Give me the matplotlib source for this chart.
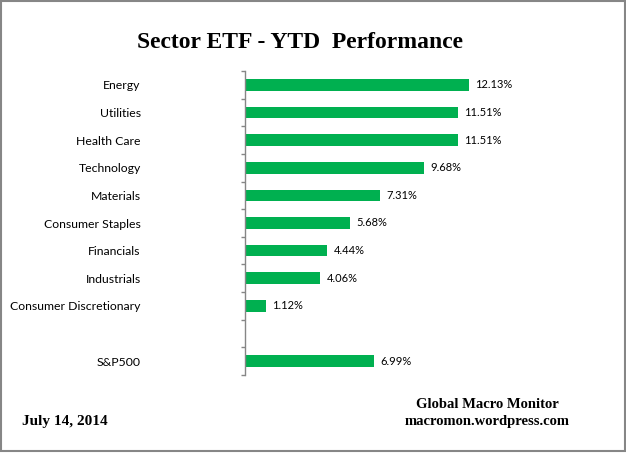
import matplotlib.pyplot as plt
from matplotlib.patches import Rectangle

# data (top to bottom), blank slot separates the index
sectors = ['Energy', 'Utilities', 'Health Care', 'Technology', 'Materials',
           'Consumer Staples', 'Financials', 'Industrials',
           'Consumer Discretionary', '', 'S&P500']
ytd = [12.13, 11.51, 11.51, 9.68, 7.31, 5.68, 4.44, 4.06, 1.12, None, 6.99]

green = '#00B050'
gray = '#868686'

fig = plt.figure(figsize=(6.26, 4.55), dpi=100)
ax = fig.add_axes([245 / 626, 80 / 455, 355 / 626, 304 / 455])

n = len(sectors)
pos = list(range(n))
for p, v in zip(pos, ytd):
    if v is None:
        continue
    ax.barh(p, v, height=0.42, color=green)
    ax.text(v + 0.35, p, '%.2f%%' % v, va='center', ha='left',
            fontsize=8, family='Lato')

ax.set_ylim(n - 0.5, -0.5)
ax.set_xlim(0, 355 / 18.47)

ax.set_yticks(pos)
ax.set_yticklabels(sectors, fontsize=8.8, family='Lato')
ax.tick_params(axis='y', which='major', length=0, pad=75)
ax.set_yticks([p + 0.5 for p in [-1] + pos], minor=True)
ax.tick_params(axis='y', which='minor', length=3, width=1, color=gray,
               direction='out')
ax.set_xticks([])

for s in ['top', 'right', 'bottom']:
    ax.spines[s].set_visible(False)
ax.spines['left'].set_color(gray)
ax.spines['left'].set_linewidth(1)

fig.text(0.48, 1 - 42 / 455, 'Sector ETF - YTD  Performance', ha='center',
         va='center', fontsize=17, fontweight='bold', family='Liberation Serif')
fig.text(22 / 626, 1 - 421 / 455, 'July 14, 2014', ha='left', va='center',
         fontsize=11, fontweight='bold', family='Liberation Serif')
fig.text(487 / 626, 1 - 405 / 455, 'Global Macro Monitor', ha='center',
         va='center', fontsize=10.5, fontweight='bold', family='Liberation Serif')
fig.text(487 / 626, 1 - 422 / 455, 'macromon.wordpress.com', ha='center',
         va='center', fontsize=10.5, fontweight='bold', family='Liberation Serif')

# chart border
fig.patches.append(Rectangle((0.5 / 626, 4 / 455), 624 / 626, 450 / 455,
                             transform=fig.transFigure, fill=False,
                             edgecolor=gray, linewidth=1.5))

fig.savefig('out.png', dpi=100)
